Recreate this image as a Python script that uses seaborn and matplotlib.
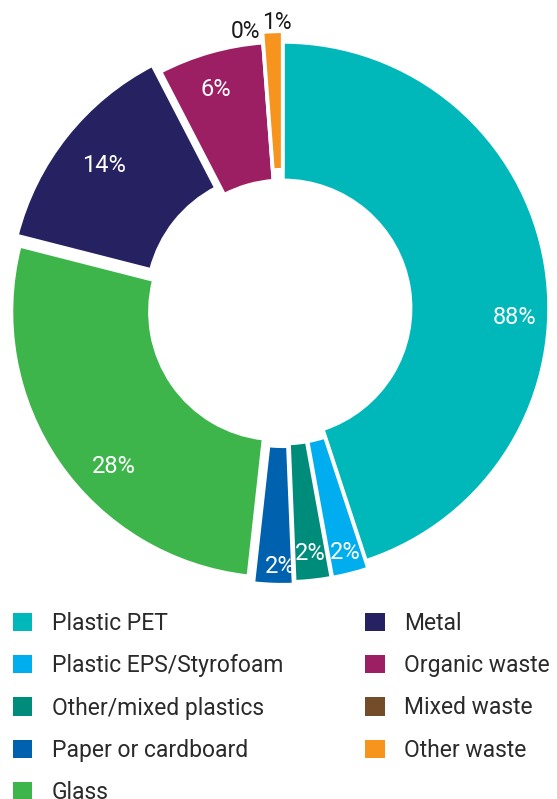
import numpy as np
import matplotlib
matplotlib.use("Agg")
import matplotlib.pyplot as plt
from matplotlib.patches import Patch
import seaborn as sns

# ---- data ----
categories = ["Plastic PET", "Plastic EPS/Styrofoam", "Other/mixed plastics",
              "Paper or cardboard", "Glass", "Metal", "Organic waste",
              "Mixed waste", "Other waste"]
shares = [44.9, 2.2, 2.2, 2.4, 27.2, 13.4, 6.4, 0.0, 1.2]      # slice sizes as drawn
label_pct = [88, 2, 2, 2, 28, 14, 6, 0, 1]                      # printed labels
colors = ["#00B8BA", "#00AEEF", "#008C7A", "#0061AE", "#3DB54A",
          "#262262", "#9D1F63", "#734C29", "#F7941D"]

# ---- styling ----
sns.set_theme(style="white")
plt.rcParams["font.family"] = ["Roboto", "DejaVu Sans"]

W, H = 557, 799
fig = plt.figure(figsize=(W / 100, H / 100), dpi=100)

cx, cy, R = 283, 308, 266
half = 280
ax = fig.add_axes([(cx - half) / W, (H - cy - half) / H, 2 * half / W, 2 * half / H])

palette = sns.color_palette(colors)
explode = [0, 0.03, 0.03, 0.04, 0.025, 0.04, 0, 0, 0.04]
wedges, _ = ax.pie(shares, colors=palette, startangle=90, counterclock=False,
                   radius=1.0, explode=explode,
                   wedgeprops=dict(width=0.52, edgecolor="white", linewidth=2.5))
ax.set_xlim(-half / R, half / R)
ax.set_ylim(-half / R, half / R)
ax.set_aspect("equal")
ax.axis("off")

# label placement (style only)
label_r = [0.87, 0.95, 0.93, 0.97, 0.87, 0.86, 0.86, 1.05, 1.075]
label_shift = [11.5, 0, 0, -1.3, -8.5, 0, -1.2, -3.3, 1.0]
label_col = ["white"] * 7 + ["#1a1a1a", "#1a1a1a"]
label_size = [17, 17, 17, 17, 17, 17, 17, 16.5, 16.5]
total = sum(shares)
start = 0.0
for i, s in enumerate(shares):
    mid = start + s / total * 360 / 2
    start += s / total * 360
    th = np.deg2rad(mid + label_shift[i])
    x = label_r[i] * np.sin(th)
    y = label_r[i] * np.cos(th)
    ax.text(x, y, f"{label_pct[i]}%", ha="center", va="center",
            color=label_col[i], fontsize=label_size[i], fontweight="normal")

# ---- legend ----
handles = [Patch(facecolor=c, edgecolor="none") for c in palette]
common = dict(frameon=False, handlelength=0.85, handleheight=0.85,
              handletextpad=0.85, labelspacing=0.84, borderpad=0, borderaxespad=0,
              loc="upper left", labelcolor="#2a2a2a",
              prop=dict(family=["Roboto", "DejaVu Sans"], weight="normal", size=16.5))
leg1 = fig.legend(handles[:5], categories[:5],
                  bbox_to_anchor=(12.7 / W, (H - 612) / H), **common)
leg2 = fig.legend(handles[5:], categories[5:],
                  bbox_to_anchor=(365.3 / W, (H - 612) / H), **common)

fig.savefig("out.png", dpi=100)
